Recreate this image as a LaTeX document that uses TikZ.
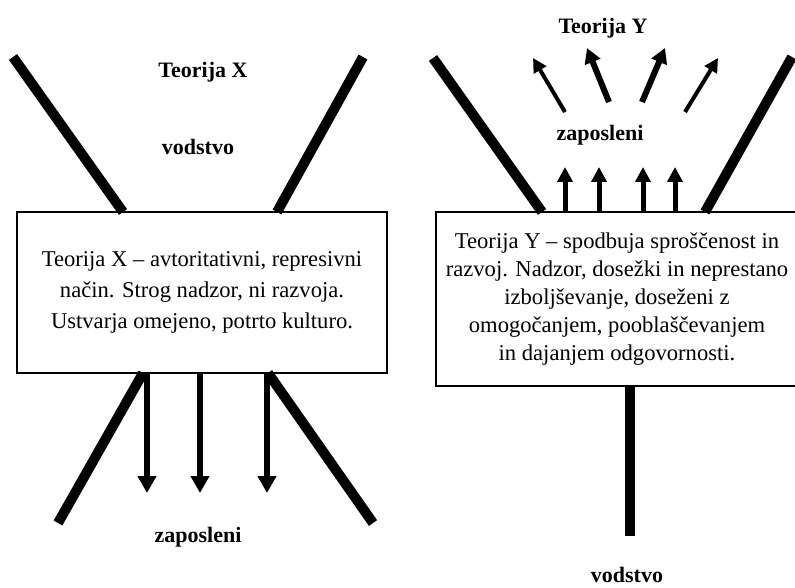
\documentclass[tikz,border=0pt]{standalone}
\usepackage{fontspec}
\setmainfont{Liberation Serif}
\usetikzlibrary{arrows.meta}
\begin{document}
\begin{tikzpicture}[x=1pt,y=-1pt,
  bar/.style={line width=10pt},
  downarrow/.style={line width=6pt,-{Triangle[length=17pt,width=18pt]}},
  uparrow/.style={line width=5pt,-{Triangle[length=15pt,width=15pt]}},
  thinray/.style={line width=4pt,-{Triangle[length=14pt,width=14pt]}},
  thickray/.style={line width=6pt,-{Triangle[length=15pt,width=16pt]}},
  textbox/.style={draw,line width=1.5pt,rectangle,inner sep=0pt,align=center},
  heading/.style={font=\fontsize{22}{26}\selectfont\bfseries,inner sep=0pt}]
\useasboundingbox (0,0) rectangle (795,588);

% ---------- Theory X ----------
\node[textbox,minimum width=370pt,minimum height=161pt,
      font=\fontsize{22.6}{31}\selectfont] (boxX) at (202,292.5)
  {Teorija X -- avtoritativni, represivni\\
   način. Strog nadzor, ni razvoja.\\
   Ustvarja omejeno, potrto kulturo.};

\node[heading] (titleX) at (203,72) {Teorija X};
\node[heading] (leadX) at (198,147) {vodstvo};
\node[heading] (staffX) at (198,537) {zaposleni};

\coordinate (xa1) at (13,57);   \coordinate (xa2) at (123,212);
\coordinate (xb1) at (363,57);  \coordinate (xb2) at (277,212);
\coordinate (xc1) at (143,373); \coordinate (xc2) at (58,523);
\coordinate (xd1) at (268,373); \coordinate (xd2) at (373,523);
\draw[bar] (xa1) -- (xa2);
\draw[bar] (xb1) -- (xb2);
\draw[bar] (xc1) -- (xc2);
\draw[bar] (xd1) -- (xd2);

\foreach \i/\xx in {1/147,2/200,3/267}{
  \coordinate (xs\i) at (\xx,373);
  \coordinate (xe\i) at (\xx,493);
  \draw[downarrow] (xs\i) -- (xe\i);
}

% ---------- Theory Y ----------
\node[textbox,minimum width=362pt,minimum height=174pt,
      font=\fontsize{22.6}{28}\selectfont] (boxY) at (617,299)
  {Teorija Y -- spodbuja sproščenost in\\
   razvoj. Nadzor, dosežki in neprestano\\
   izboljševanje, doseženi z\\
   omogočanjem, pooblaščevanjem\\
   in dajanjem odgovornosti.};

\node[heading] (titleY) at (603,28) {Teorija Y};
\node[heading] (staffY) at (600,135) {zaposleni};
\node[heading] (leadY) at (627,575) {vodstvo};

\coordinate (ya1) at (433,58);  \coordinate (ya2) at (542,212);
\coordinate (yb1) at (792,57);  \coordinate (yb2) at (705,212);
\coordinate (yc1) at (630,386); \coordinate (yc2) at (630,536);
\draw[bar] (ya1) -- (ya2);
\draw[bar] (yb1) -- (yb2);
\draw[bar] (yc1) -- (yc2);

\foreach \i/\xx in {1/565,2/599,3/643,4/675}{
  \coordinate (ys\i) at (\xx,212);
  \coordinate (ye\i) at (\xx,167);
  \draw[uparrow] (ys\i) -- (ye\i);
}

\coordinate (r1s) at (565,112); \coordinate (r1e) at (533,58);
\coordinate (r2s) at (609,102); \coordinate (r2e) at (587,48);
\coordinate (r3s) at (642,102); \coordinate (r3e) at (665,48);
\coordinate (r4s) at (685,112); \coordinate (r4e) at (718,58);
\draw[thinray] (r1s) -- (r1e);
\draw[thickray] (r2s) -- (r2e);
\draw[thickray] (r3s) -- (r3e);
\draw[thinray] (r4s) -- (r4e);
\end{tikzpicture}
\end{document}
